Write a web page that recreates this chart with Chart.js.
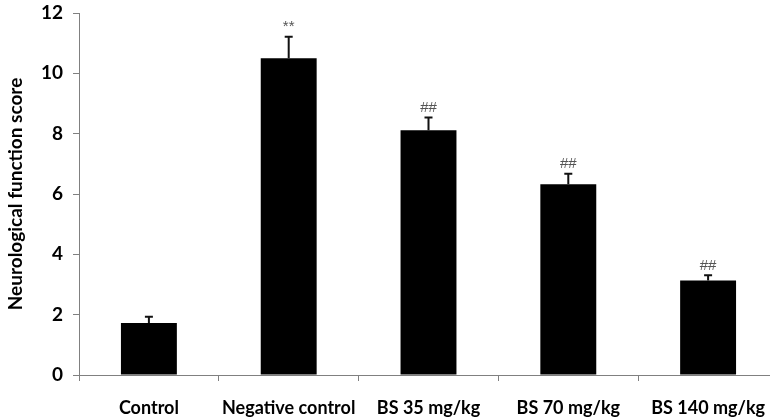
<!DOCTYPE html>
<html>
<head>
<meta charset="utf-8">
<script src="https://cdn.jsdelivr.net/npm/chart.js@4.4.0/dist/chart.umd.min.js"></script>
<style>
  html, body { margin: 0; padding: 0; background: #fff; overflow: hidden; }
  #wrap { width: 778px; height: 418px; }
</style>
</head>
<body>
<div id="wrap"><canvas id="scoreChart" width="778" height="418"></canvas></div>
<script>
// Chart data
const categories = ['Control', 'Negative control', 'BS 35 mg/kg', 'BS 70 mg/kg', 'BS 140 mg/kg'];
const scores = [1.72, 10.5, 8.11, 6.32, 3.13];
const errors = [0.21, 0.71, 0.43, 0.35, 0.18];
const marks = ['', '**', '##', '##', '##'];
const yTicks = [0, 2, 4, 6, 8, 10, 12];

const FONT = 'Lato, "Open Sans", sans-serif';

// Draw upper error bars and significance marks over the bars
const errorBarPlugin = {
  id: 'errorBars',
  afterDatasetsDraw(chart) {
    const ctx = chart.ctx;
    const meta = chart.getDatasetMeta(0);
    const y = chart.scales.y;
    ctx.save();
    meta.data.forEach((bar, i) => {
      const top = y.getPixelForValue(scores[i]);
      const errTop = y.getPixelForValue(scores[i] + errors[i]);
      ctx.strokeStyle = '#111';
      ctx.lineWidth = 2;
      ctx.beginPath();
      ctx.moveTo(bar.x, top);
      ctx.lineTo(bar.x, errTop);
      ctx.moveTo(bar.x - 4, errTop);
      ctx.lineTo(bar.x + 4, errTop);
      ctx.stroke();

      if (marks[i]) {
        ctx.fillStyle = '#555';
        ctx.font = '15px "Liberation Sans", sans-serif';
        ctx.textAlign = 'center';
        ctx.textBaseline = 'bottom';
        ctx.fillText(marks[i], bar.x, errTop - 2);
      }
    });
    ctx.restore();
  }
};

new Chart(document.getElementById('scoreChart'), {
  type: 'bar',
  data: {
    labels: categories,
    datasets: [{
      data: scores,
      backgroundColor: '#000',
      borderWidth: 0,
      barPercentage: 0.4,
      categoryPercentage: 1.0
    }]
  },
  options: {
    responsive: false,
    animation: false,
    layout: { padding: { top: 13, right: 0, left: 0, bottom: 0 } },
    plugins: {
      legend: { display: false },
      tooltip: { enabled: false }
    },
    scales: {
      x: {
        grid: {
          display: true,
          drawOnChartArea: false,
          drawTicks: true,
          tickLength: 6,
          color: '#808080',
          offset: true
        },
        border: { color: '#808080', width: 1 },
        ticks: {
          color: '#000',
          padding: 16,
          maxRotation: 0,
          font: { family: FONT, size: 18, weight: 'bold' }
        },
        afterFit(scale) {
          scale.height = 43;
          scale.paddingLeft = 0;
          scale.paddingRight = 0;
        }
      },
      y: {
        min: 0,
        max: 12,
        afterBuildTicks(scale) {
          scale.ticks = yTicks.map(v => ({ value: v }));
        },
        grid: {
          display: true,
          drawOnChartArea: false,
          drawTicks: true,
          tickLength: 6,
          color: '#808080'
        },
        border: { color: '#808080', width: 1 },
        ticks: {
          color: '#000',
          padding: 10,
          font: { family: FONT, size: 19, weight: 'bold' }
        },
        title: {
          display: true,
          text: 'Neurological function score',
          color: '#000',
          padding: { top: 4, bottom: 0 },
          font: { family: FONT, size: 19, weight: 'bold' }
        },
        afterFit(scale) {
          scale.width = 79;
          scale.paddingTop = 0;
          scale.paddingBottom = 0;
        }
      }
    }
  },
  plugins: [errorBarPlugin]
});
</script>
</body>
</html>
